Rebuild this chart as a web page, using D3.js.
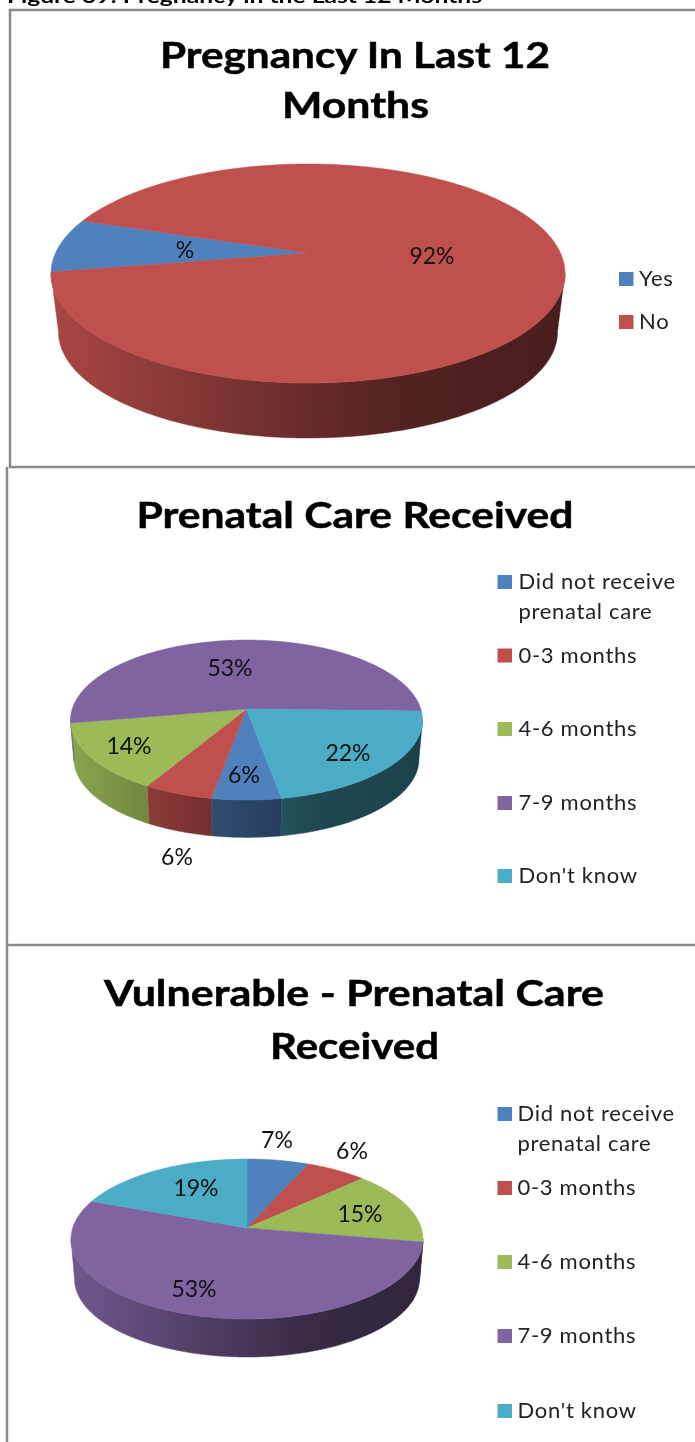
<!DOCTYPE html>
<html>
<head>
<meta charset="utf-8">
<script src="https://cdn.jsdelivr.net/npm/d3@7"></script>
<style>
  html, body { margin: 0; padding: 0; background: #fff; }
  svg { display: block; filter: blur(0.45px); }
  text { font-family: Lato, "Open Sans", sans-serif; }
</style>
</head>
<body>
<div id="chart"></div>
<script>
// data
var pregnancyCats = ["Yes", "No"];
var pregnancyVals = [8, 92];
var pregnancyLabels = ["%", "92%"];

var careCats = ["Did not receive|prenatal care", "0-3 months", "4-6 months", "7-9 months", "Don't know"];
var careVals = [5.6, 5.6, 13.9, 53.4, 21.9];
var careLabels = ["6%", "6%", "14%", "53%", "22%"];

var vulnerableVals = [6.5, 6.4, 14.9, 53, 19.2];
var vulnerableLabels = ["7%", "6%", "15%", "53%", "19%"];

var pregnancyColors = ["#4f81bd", "#c0504d"];
var careColors = ["#4f81bd", "#c0504d", "#9bbb59", "#8064a2", "#4bacc6"];

// layout of the three panels
var charts = [
  {
    id: "a", cats: pregnancyCats, vals: pregnancyVals, labels: pregnancyLabels, colors: pregnancyColors, start: 260,
    top: {cx: 308, cy: 273.5, rx: 257, ry: 109.5}, bottom: {cx: 308, cy: 332, rx: 249.5, ry: 106}, skew: -0.187,
    title: [["Pregnancy In Last 12", 160, 550, 68], ["Months", 282, 429, 118]],
    labelAt: [[185, 258], [432, 264]],
    legend: {x: 619, tx: 639, size: 14, baselines: [286, 329]}
  },
  {
    id: "b", cats: careCats, vals: careVals, labels: careLabels, colors: careColors, start: 170,
    top: {cx: 246.5, cy: 720, rx: 176, ry: 80}, bottom: {cx: 246.5, cy: 759, rx: 172.5, ry: 78.4}, skew: -0.1375,
    title: [["Prenatal Care Received", 136.5, 573.5, 528]],
    labelAt: [[244, 783], [177, 865], [129, 754], [230, 676], [348, 761]],
    legend: {x: 497.5, tx: 518.5, size: 14, baselines: [589, 662.5, 736, 810, 883]}
  },
  {
    id: "c", cats: careCats, vals: vulnerableVals, labels: vulnerableLabels, colors: careColors, start: 0,
    top: {cx: 247, cy: 1239, rx: 176, ry: 80}, bottom: {cx: 247, cy: 1279, rx: 172.5, ry: 78}, skew: -0.1375,
    title: [["Vulnerable - Prenatal Care", 104, 604, 1006], ["Received", 270, 439, 1059]],
    labelAt: [[277, 1148], [352, 1159], [360, 1222], [194, 1297], [196, 1196]],
    legend: {x: 497.5, tx: 517.5, size: 14, baselines: [1121, 1195, 1269, 1343, 1418]}
  }
];

var width = 695, height = 1442;
var svg = d3.select("#chart").append("svg").attr("width", width).attr("height", height);
var defs = svg.append("defs");

// panel frames and the cut off heading
var frames = [
  "M695,10H10V467H695",
  "M7,467V945H695",
  "M7,945V1442"
];
svg.selectAll("path.frame").data(frames).enter().append("path")
  .attr("class", "frame").attr("d", function(d){ return d; })
  .attr("fill", "none").attr("stroke", "#8a8a8a").attr("stroke-width", 2.5);

svg.append("text").attr("x", 7).attr("y", 3)
  .attr("font-size", 19).attr("font-weight", 700)
  .attr("textLength", 475).attr("lengthAdjust", "spacingAndGlyphs")
  .text("Figure 39: Pregnancy in the Last 12 Months");

// slices are tilted, so the pie centre sits above the ellipse centre.
// this maps a point on the unit circle to the tilted one and keeps it on the circle
function tilt(theta, t){
  var u = Math.sin(theta), v = -Math.cos(theta);
  var d = 1 + t * v;
  return [u * Math.sqrt(1 - t * t) / d, (v + t) / d];
}

var wallStops = [[0, 0.87], [0.4, 0.6], [0.7, 0.42], [1, 0.38]];

charts.forEach(function(c){
  var g = svg.append("g");
  var topX = d3.scaleLinear().domain([-1, 1]).range([c.top.cx - c.top.rx, c.top.cx + c.top.rx]);
  var topY = d3.scaleLinear().domain([-1, 1]).range([c.top.cy - c.top.ry, c.top.cy + c.top.ry]);
  var botX = d3.scaleLinear().domain([-1, 1]).range([c.bottom.cx - c.bottom.rx, c.bottom.cx + c.bottom.rx]);
  var botY = d3.scaleLinear().domain([-1, 1]).range([c.bottom.cy - c.bottom.ry, c.bottom.cy + c.bottom.ry]);

  var start = c.start * Math.PI / 180;
  var pie = d3.pie().sort(null).startAngle(start).endAngle(start + 2 * Math.PI);
  var arcs = pie(c.vals);
  var line = d3.line();

  function samples(a){
    var n = Math.max(2, Math.ceil((a.endAngle - a.startAngle) / 0.01));
    return d3.range(n + 1).map(function(i){
      return tilt(a.startAngle + (a.endAngle - a.startAngle) * i / n, c.skew);
    });
  }

  // side wall gradients, one per colour
  c.colors.forEach(function(col, i){
    var grad = defs.append("linearGradient")
      .attr("id", "wall-" + c.id + i)
      .attr("gradientUnits", "userSpaceOnUse")
      .attr("x1", botX(-1)).attr("x2", botX(1)).attr("y1", 0).attr("y2", 0);
    wallStops.forEach(function(s){
      grad.append("stop").attr("offset", s[0])
        .attr("stop-color", d3.interpolateRgb(col, "#000")(1 - s[1]));
    });
  });

  // walls first, the top goes over them
  g.selectAll("path.wall").data(arcs).enter().append("path")
    .attr("class", "wall")
    .attr("fill", function(d, i){ return "url(#wall-" + c.id + i + ")"; })
    .attr("stroke", function(d, i){ return "url(#wall-" + c.id + i + ")"; })
    .attr("stroke-width", 0.5)
    .attr("d", function(d){
      var pts = samples(d).filter(function(p){ return p[1] >= -0.01; });
      if(pts.length < 2) return null;
      var upper = pts.map(function(p){ return [topX(p[0]), topY(p[1])]; });
      var lower = pts.map(function(p){ return [botX(p[0]), botY(p[1])]; }).reverse();
      return line(upper.concat(lower)) + "Z";
    });

  g.selectAll("path.slice").data(arcs).enter().append("path")
    .attr("class", "slice")
    .attr("fill", function(d, i){ return c.colors[i]; })
    .attr("stroke", function(d, i){ return c.colors[i]; })
    .attr("stroke-width", 0.5)
    .attr("d", function(d){
      var apex = [topX(0), topY(c.skew)];
      var rim = samples(d).map(function(p){ return [topX(p[0]), topY(p[1])]; });
      return line([apex].concat(rim)) + "Z";
    });

  // value labels
  g.selectAll("text.value").data(c.labels).enter().append("text")
    .attr("class", "value")
    .attr("x", function(d, i){ return c.labelAt[i][0]; })
    .attr("y", function(d, i){ return c.labelAt[i][1]; })
    .attr("text-anchor", "middle").attr("font-size", 23).attr("fill", "#111")
    .text(function(d){ return d; });

  // title
  c.title.forEach(function(t){
    g.append("text").attr("x", t[1]).attr("y", t[3])
      .attr("font-size", 37).attr("font-weight", 700).attr("fill", "#000")
      .attr("stroke", "#000").attr("stroke-width", 0.5)
      .attr("textLength", t[2] - t[1]).attr("lengthAdjust", "spacingAndGlyphs")
      .text(t[0]);
  });

  // legend
  var lg = c.legend;
  var row = g.selectAll("g.legend").data(c.cats).enter().append("g").attr("class", "legend");
  row.append("rect")
    .attr("x", lg.x)
    .attr("y", function(d, i){ return lg.baselines[i] - lg.size; })
    .attr("width", lg.size + 0.5).attr("height", lg.size)
    .attr("fill", function(d, i){ return c.colors[i]; });
  row.each(function(d, i){
    var parts = d.split("|");
    var self = d3.select(this);
    parts.forEach(function(p, k){
      self.append("text").attr("x", lg.tx).attr("y", lg.baselines[i] + k * 29.5)
        .attr("font-size", 22).attr("fill", "#222")
        .attr("letter-spacing", 0.7)
        .text(p);
    });
  });
});
</script>
</body>
</html>
